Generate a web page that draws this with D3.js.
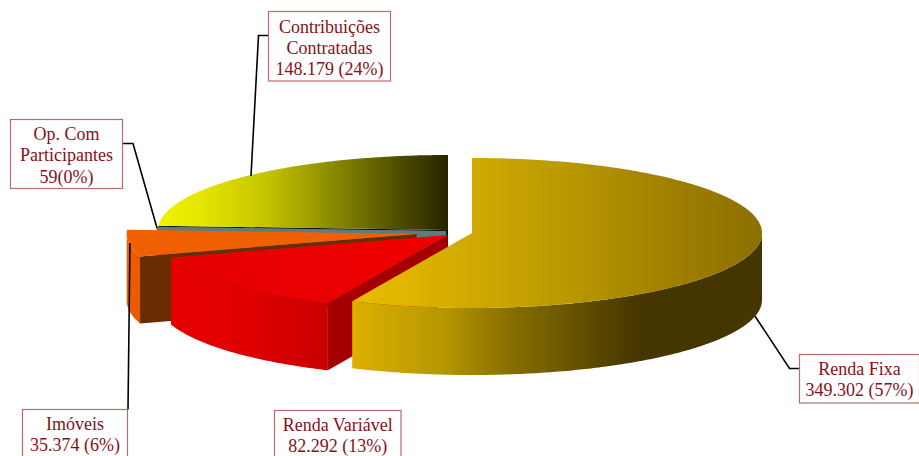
<!DOCTYPE html>
<html>
<head>
<meta charset="utf-8">
<script src="https://cdn.jsdelivr.net/npm/d3@7/dist/d3.min.js"></script>
<style>
html,body{margin:0;padding:0;background:#fff;overflow:hidden}
svg{display:block}
text{font-family:"Liberation Serif","Times New Roman",serif;font-size:18px;fill:#8a0f16;text-anchor:middle}
</style>
</head>
<body>
<svg id="c" width="919" height="456"></svg>
<script>
// Data
const categories = ["Renda Fixa","Renda Variável","Imóveis","Op. Com Participantes","Contribuições Contratadas"];
const values = [349302, 82292, 35374, 59, 148179];
const labelLines = [
  ["Renda Fixa","349.302 (57%)"],
  ["Renda Variável","82.292 (13%)"],
  ["Imóveis","35.374 (6%)"],
  ["Op. Com","Participantes","59(0%)"],
  ["Contribuições","Contratadas","148.179 (24%)"]
];

// Layout
const rx = 290, ry = 75, depth = 67;
const apex = [[472,233],[447.7,235],[416.7,233.9],[446,231.6],[448,230]];
const topGrad = [
  [[353,"#e9ba00"],[407,"#e0b400"],[540,"#c09e00"],[673,"#a07f00"],[762,"#8a7000"]],
  [[172,"#e40000"],[448,"#f00000"]],
  [[127,"#f06000"],[417,"#f06000"]],
  [[157,"#5d7c80"],[446,"#5d7c80"]],
  [[158,"#f2f200"],[200,"#e6e600"],[267,"#c4c400"],[333,"#8a8a00"],[400,"#4d4d00"],[448,"#242400"]]
];
const wallGrad = [
  [[353,"#dbb000"],[440,"#b89800"],[507,"#8a7000"],[573,"#665300"],[640,"#453500"],[762,"#453500"]],
  [[172,"#e60000"],[250,"#e00000"],[328,"#c80000"]],
  [[127,"#ee5e00"],[140,"#e85a00"]],
  [[157,"#3c5558"],[446,"#3c5558"]],
  [[158,"#333300"],[448,"#222200"]]
];
const faceColor = ["#453500","#a40000","#672c00","#5d7c80","#111100"];
const boxes = [
  {x:799.5,y:354.5,w:120,h:48.5,base:375,line:[[755,316],[789.5,368.5],[799.5,368.5]]},
  {x:274.5,y:410.5,w:126.5,h:60,base:431,line:null},
  {x:22.5,y:409.5,w:105,h:60,base:430,line:[[130,243],[128,409.5]]},
  {x:10.5,y:119.5,w:112,h:69,base:140,line:[[122.5,143.5],[133,143.5],[157,228]]},
  {x:268.5,y:11.5,w:122,h:69.5,base:32.5,line:[[268.5,35.5],[258.5,35.5],[251,176]]}
];

const svg = d3.select("#c");
const defs = svg.append("defs");
const sx = d3.scaleLinear().domain([-1,1]).range([-rx,rx]);
const sy = d3.scaleLinear().domain([-1,1]).range([ry,-ry]);
const pie = d3.pie().sort(null).startAngle(0).endAngle(2*Math.PI);
const arcs = pie(values);
const line = d3.line();

function pt(i,a,dz){ return [apex[i][0]+sx(Math.sin(a)), apex[i][1]+sy(Math.cos(a))+(dz||0)]; }
function arcPts(i,a0,a1,dz){
  const n = Math.max(2,Math.ceil(Math.abs(a1-a0)/0.01));
  return d3.range(n+1).map(k=>pt(i,a0+(a1-a0)*k/n,dz));
}
function grad(id,stops){
  const xs = stops.map(s=>s[0]);
  const g = defs.append("linearGradient").attr("id",id).attr("gradientUnits","userSpaceOnUse")
    .attr("x1",xs[0]).attr("x2",xs[xs.length-1]).attr("y1",0).attr("y2",0);
  const u = d3.scaleLinear().domain([xs[0],xs[xs.length-1]]).range([0,1]);
  stops.forEach(s=>g.append("stop").attr("offset",u(s[0])).attr("stop-color",s[1]));
  return "url(#"+id+")";
}

const PI = Math.PI;
// back to front: Contribuições, Op., Imóveis, Renda Variável, Renda Fixa
d3.range(arcs.length-1,-1,-1).forEach(i=>{
  const d = arcs[i];
  const g = svg.append("g").attr("class","slice").attr("data-name",categories[i]);
  const a0 = d.startAngle, a1 = d.endAngle;
  // cut face at the start angle
  if (a0 > PI && a0 < 2*PI) {
    const c = apex[i], o = pt(i,a0);
    g.append("path").attr("fill",faceColor[i])
      .attr("d",line([c,o,[o[0],o[1]+depth],[c[0],c[1]+depth]])+"Z");
  }
  // outer wall, front half only
  const w0 = Math.max(a0,PI/2), w1 = Math.min(a1,3*PI/2);
  if (w1 > w0) {
    const pts = arcPts(i,w0,w1,0).concat(arcPts(i,w1,w0,depth));
    g.append("path").attr("fill",grad("w"+i,wallGrad[i])).attr("d",line(pts)+"Z");
  }
  // top surface
  const tp = [apex[i]].concat(arcPts(i,a0,a1,0));
  g.append("path").attr("fill",grad("t"+i,topGrad[i]))
    .attr("stroke",i===3?"#5d7c80":"none").attr("stroke-width",i===3?1:0)
    .attr("d",line(tp)+"Z");
});

// Leaders
boxes.forEach(b=>{
  if (b.line) svg.append("path").attr("fill","none").attr("stroke","#000").attr("stroke-width",1.6)
    .attr("d",line(b.line));
});
// Label boxes
boxes.forEach((b,i)=>{
  svg.append("rect").attr("x",b.x).attr("y",b.y).attr("width",b.w).attr("height",b.h)
    .attr("fill","#fff").attr("stroke","#bd6a6a").attr("stroke-width",1.2);
  labelLines[i].forEach((t,k)=>{
    svg.append("text").attr("x",b.x+b.w/2).attr("y",b.base+k*21.3).text(t);
  });
});
</script>
</body>
</html>
